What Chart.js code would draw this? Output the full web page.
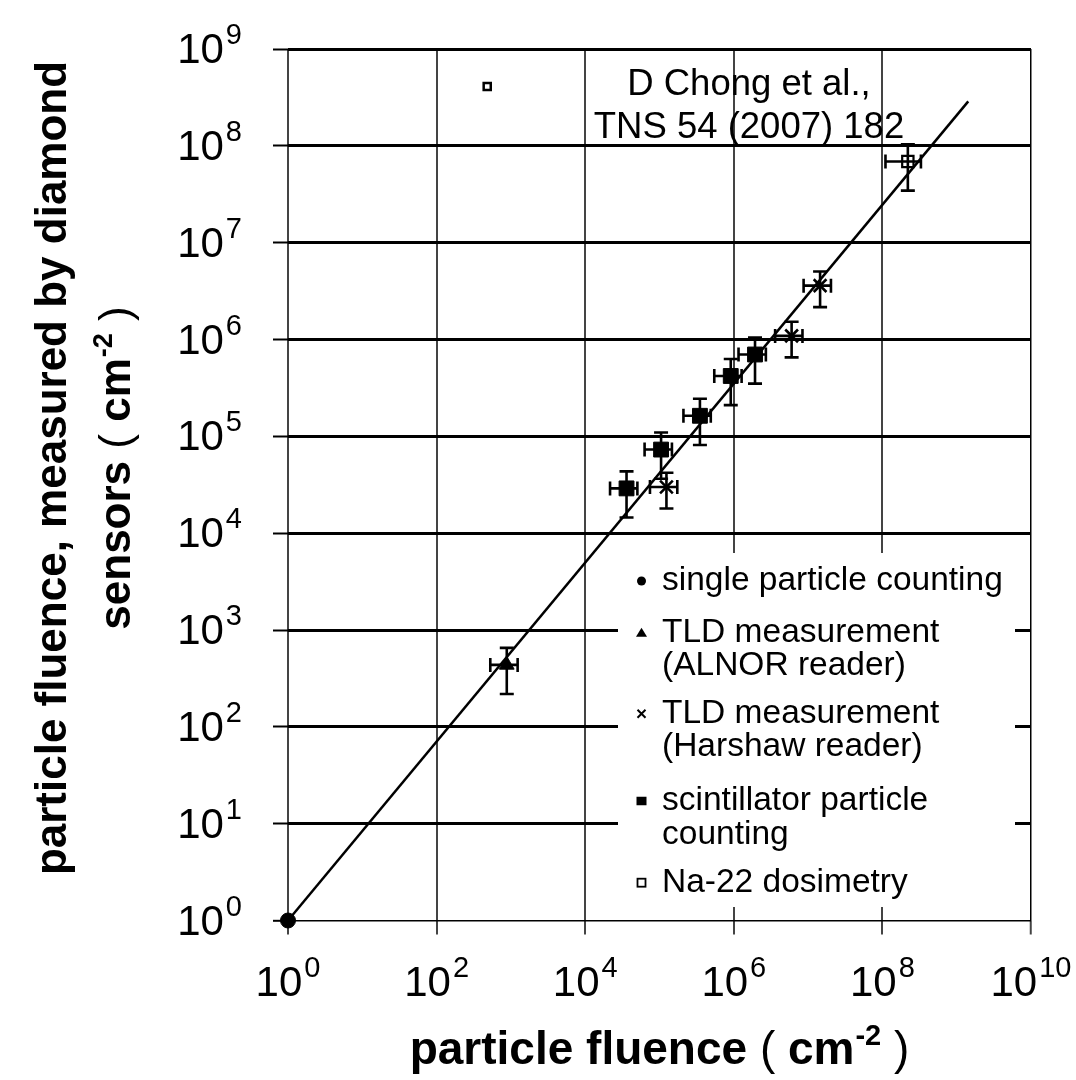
<!DOCTYPE html>
<html>
<head>
<meta charset="utf-8">
<script src="https://cdn.jsdelivr.net/npm/chart.js@4.4.1/dist/chart.umd.min.js"></script>
<style>
  html, body { margin: 0; padding: 0; background: #fff; }
  canvas { display: block; }
</style>
</head>
<body>
<canvas id="fluence" width="1076" height="1080"></canvas>
<script>
// values (cm^-2), errors as relative fractions
const singleX = [1];
const singleY = [1];

const alnorX = [880];
const alnorY = [436];
const alnorXErr = [0.4];
const alnorYErr = [0.5];

const harshawX = [1.24e5, 6.0e6, 1.45e7];
const harshawY = [3.0e4, 1.09e6, 3.6e6];
const harshawXErr = [0.4, 0.4, 0.4];
const harshawYErr = [0.4, 0.4, 0.4];

const scintX = [3.6e4, 1.05e5, 3.5e5, 9.1e5, 1.93e6];
const scintY = [2.9e4, 7.3e4, 1.63e5, 4.2e5, 7.0e5];
const scintXErr = [0.4, 0.4, 0.4, 0.4, 0.4];
const scintYErr = [0.5, 0.5, 0.5, 0.5, 0.5];

const naX = [2.2e8];
const naY = [6.9e7];
const naXErr = [0.5];
const naYErr = [0.5];

// the small open square next to the citation
const citeMarkX = [480];
const citeMarkY = [4.1e8];

// straight fit line (log-log)
const fitX = [1, 1.43e9];
const fitY = [1, 2.88e8];

const xTickExps = [0, 2, 4, 6, 8, 10];
const yTickExps = [0, 1, 2, 3, 4, 5, 6, 7, 8, 9];

const legendLabels = [
  ['single particle counting'],
  ['TLD measurement', '(ALNOR reader)'],
  ['TLD measurement', '(Harshaw reader)'],
  ['scintillator particle', 'counting'],
  ['Na-22 dosimetry']
];
const legendStyles = ['circle', 'triangle', 'crossRot', 'rect', 'rectOpen'];
const citeLines = ['D Chong et al.,', 'TNS 54 (2007) 182'];

const FONT = "'Liberation Sans', Arial, Helvetica, sans-serif";

const pts = (xs, ys) => xs.map((x, i) => ({ x: x, y: ys[i] }));

function runsWidth(ctx, runs) {
  let w = 0;
  runs.forEach(r => {
    ctx.font = r.font;
    w += ctx.measureText(r.text).width + (r.dx || 0);
  });
  return w;
}

function drawRuns(ctx, runs, x, y) {
  runs.forEach(r => {
    ctx.font = r.font;
    x += r.dx || 0;
    ctx.fillText(r.text, x, y + (r.dy || 0));
    x += ctx.measureText(r.text).width;
  });
}

function powRuns(e) {
  return [
    { text: '10', font: `42px ${FONT}` },
    { text: String(e), font: `29px ${FONT}`, dx: 2, dy: -19 }
  ];
}

function unitRuns(lead, size) {
  return [
    { text: lead, font: `bold ${size}px ${FONT}` },
    { text: ' ( ', font: `${size}px ${FONT}` },
    { text: 'cm', font: `bold ${size}px ${FONT}` },
    { text: '-2', font: `bold ${Math.round(size * 0.62)}px ${FONT}`, dx: 1, dy: -Math.round(size * 0.42) },
    { text: ' )', font: `${size}px ${FONT}` }
  ];
}

function drawMarker(ctx, style, x, y, r) {
  ctx.beginPath();
  if (style === 'circle') {
    ctx.arc(x, y, r, 0, Math.PI * 2);
    ctx.fill();
  } else if (style === 'triangle') {
    ctx.moveTo(x, y - r);
    ctx.lineTo(x + r * 1.1, y + r * 0.8);
    ctx.lineTo(x - r * 1.1, y + r * 0.8);
    ctx.closePath();
    ctx.fill();
  } else if (style === 'crossRot') {
    ctx.moveTo(x - r, y - r); ctx.lineTo(x + r, y + r);
    ctx.moveTo(x + r, y - r); ctx.lineTo(x - r, y + r);
    ctx.stroke();
  } else if (style === 'rect') {
    ctx.fillRect(x - r, y - r * 0.85, 2 * r, 1.7 * r);
  } else {
    ctx.strokeRect(x - r + 1, y - r + 1, 2 * r - 2, 2 * r - 2);
  }
}

// white legend panel over the grid
const legendPanel = {
  id: 'legendPanel',
  beforeDatasetsDraw(chart) {
    const ctx = chart.ctx;
    ctx.save();
    ctx.fillStyle = '#fff';
    ctx.fillRect(618, 553, 397, 354);
    ctx.restore();
  }
};

const errorBars = {
  id: 'errorBars',
  afterDatasetsDraw(chart) {
    const { ctx, scales: { x, y } } = chart;
    const c = 7;
    ctx.save();
    ctx.strokeStyle = '#000';
    ctx.lineWidth = 2.6;
    chart.data.datasets.forEach(ds => {
      if (!ds.xErr) return;
      ds.data.forEach((p, i) => {
        const px = x.getPixelForValue(p.x);
        const py = y.getPixelForValue(p.y);
        const x0 = x.getPixelForValue(p.x * (1 - ds.xErr[i]));
        const x1 = x.getPixelForValue(p.x * (1 + ds.xErr[i]));
        const y0 = y.getPixelForValue(p.y * (1 - ds.yErr[i]));
        const y1 = y.getPixelForValue(p.y * (1 + ds.yErr[i]));
        ctx.beginPath();
        ctx.moveTo(x0, py); ctx.lineTo(x1, py);
        ctx.moveTo(x0, py - c); ctx.lineTo(x0, py + c);
        ctx.moveTo(x1, py - c); ctx.lineTo(x1, py + c);
        ctx.moveTo(px, y0); ctx.lineTo(px, y1);
        ctx.moveTo(px - c, y0); ctx.lineTo(px + c, y0);
        ctx.moveTo(px - c, y1); ctx.lineTo(px + c, y1);
        ctx.stroke();
      });
    });
    ctx.restore();
  }
};

// tick labels with superscripts, axis titles, legend text, citation
const textLayer = {
  id: 'textLayer',
  afterDraw(chart) {
    const { ctx, chartArea, scales: { x, y } } = chart;
    ctx.save();
    ctx.fillStyle = '#000';
    ctx.textBaseline = 'alphabetic';
    ctx.textAlign = 'left';

    xTickExps.forEach(e => {
      const runs = powRuns(e);
      const w = runsWidth(ctx, runs);
      const px = x.getPixelForValue(Math.pow(10, e));
      drawRuns(ctx, runs, px - w / 2, chartArea.bottom + 75);
    });

    yTickExps.forEach(e => {
      const runs = powRuns(e);
      const w = runsWidth(ctx, runs);
      const py = y.getPixelForValue(Math.pow(10, e));
      drawRuns(ctx, runs, chartArea.left - 46 - w, py + 14);
    });

    // x title
    const xt = unitRuns('particle fluence', 46);
    const xw = runsWidth(ctx, xt);
    drawRuns(ctx, xt, (chartArea.left + chartArea.right) / 2 - xw / 2, 1064);

    // y title, two lines
    const yMid = 468;
    const l1 = [{ text: 'particle fluence, measured by diamond', font: `bold 44px ${FONT}` }];
    const l2 = unitRuns('sensors', 44);
    [[l1, 66], [l2, 130]].forEach(([runs, bx]) => {
      const w = runsWidth(ctx, runs);
      ctx.save();
      ctx.translate(bx, yMid);
      ctx.rotate(-Math.PI / 2);
      drawRuns(ctx, runs, -w / 2, 0);
      ctx.restore();
    });

    // citation
    ctx.font = `36.5px ${FONT}`;
    ctx.textAlign = 'center';
    ctx.fillText(citeLines[0], 749, 95);
    ctx.fillText(citeLines[1], 749, 138);

    // legend
    const firstBase = [590, 641.7, 722.7, 810, 891.7];
    ctx.font = `33.5px ${FONT}`;
    ctx.textAlign = 'left';
    ctx.strokeStyle = '#000';
    legendLabels.forEach((lines, i) => {
      lines.forEach((t, k) => ctx.fillText(t, 662, firstBase[i] + k * 33.5));
      ctx.lineWidth = legendStyles[i] === 'crossRot' ? 2 : 1.8;
      drawMarker(ctx, legendStyles[i], 641.5, firstBase[i] - 9, legendStyles[i] === 'circle' ? 4.5 : (legendStyles[i] === 'crossRot' ? 4 : 5));
    });
    ctx.restore();
  }
};

const lastX = xTickExps.length - 1;
const lastY = yTickExps.length - 1;

new Chart(document.getElementById('fluence'), {
  type: 'scatter',
  data: {
    datasets: [
      {
        label: 'fit', data: pts(fitX, fitY), showLine: true, pointRadius: 0,
        borderColor: '#000', borderWidth: 2.5, clip: false
      },
      {
        label: 'single particle counting', data: pts(singleX, singleY),
        pointStyle: 'circle', pointRadius: 7.5, backgroundColor: '#000', borderColor: '#000', clip: false
      },
      {
        label: 'TLD measurement (ALNOR reader)', data: pts(alnorX, alnorY), xErr: alnorXErr, yErr: alnorYErr,
        pointStyle: 'triangle', pointRadius: 8.5, backgroundColor: '#000', borderColor: '#000', clip: false
      },
      {
        label: 'TLD measurement (Harshaw reader)', data: pts(harshawX, harshawY), xErr: harshawXErr, yErr: harshawYErr,
        pointStyle: 'crossRot', pointRadius: 9, borderWidth: 2.6, backgroundColor: '#000', borderColor: '#000', clip: false
      },
      {
        label: 'scintillator particle counting', data: pts(scintX, scintY), xErr: scintXErr, yErr: scintYErr,
        pointStyle: 'rect', pointRadius: 10.5, backgroundColor: '#000', borderColor: '#000', clip: false
      },
      {
        label: 'Na-22 dosimetry', data: pts(naX, naY), xErr: naXErr, yErr: naYErr,
        pointStyle: 'rect', pointRadius: 8, borderWidth: 2.2, backgroundColor: 'rgba(0,0,0,0)', borderColor: '#000', clip: false
      },
      {
        label: 'citation mark', data: pts(citeMarkX, citeMarkY),
        pointStyle: 'rect', pointRadius: 5, borderWidth: 2.5, backgroundColor: '#fff', borderColor: '#000', clip: false
      }
    ]
  },
  options: {
    responsive: false,
    animation: false,
    events: [],
    layout: { padding: { top: 49, right: 45, bottom: 0, left: 0 } },
    plugins: { legend: { display: false }, tooltip: { enabled: false } },
    scales: {
      x: {
        type: 'logarithmic',
        min: 1,
        max: 1e10,
        afterBuildTicks: s => { s.ticks = xTickExps.map(e => ({ value: Math.pow(10, e) })); },
        afterFit: s => { s.height = 159.5; },
        ticks: { display: false },
        border: { display: false },
        grid: {
          color: c => c.index === lastX ? '#000' : '#444',
          lineWidth: c => c.index === lastX ? 1.5 : 2,
          tickLength: 14,
          tickColor: '#444',
          tickWidth: 2
        }
      },
      y: {
        type: 'logarithmic',
        min: 1,
        max: 1e9,
        afterBuildTicks: s => { s.ticks = yTickExps.map(e => ({ value: Math.pow(10, e) })); },
        afterFit: s => { s.width = 288; },
        ticks: { display: false },
        border: { display: false },
        grid: {
          color: '#000',
          lineWidth: c => c.index === 0 ? 1.6 : 3,
          tickLength: 15,
          tickColor: '#000',
          tickWidth: 2
        }
      }
    }
  },
  plugins: [legendPanel, errorBars, textLayer]
});
</script>
</body>
</html>
